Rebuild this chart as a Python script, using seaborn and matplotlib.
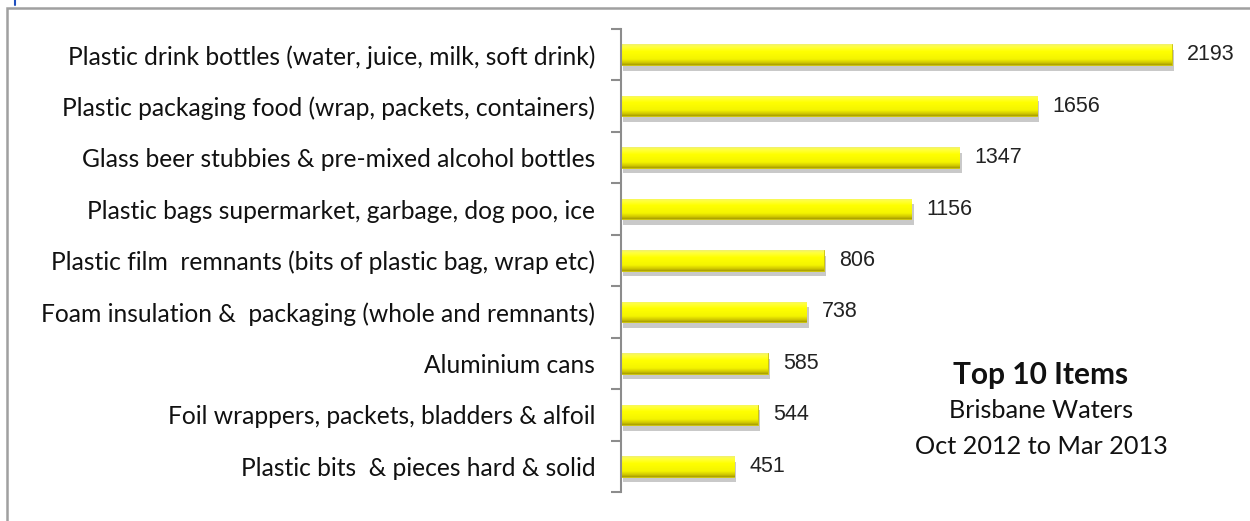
import matplotlib
matplotlib.use("Agg")
import matplotlib.pyplot as plt
import matplotlib.patheffects as pe
from matplotlib.patches import Rectangle
from matplotlib.lines import Line2D
from matplotlib.ticker import FixedLocator
from matplotlib.colors import LinearSegmentedColormap
import numpy as np
import seaborn as sns
import pandas as pd

categories = [
    "Plastic drink bottles (water, juice, milk, soft drink)",
    "Plastic packaging food (wrap, packets, containers)",
    "Glass beer stubbies & pre-mixed alcohol bottles",
    "Plastic bags supermarket, garbage, dog poo, ice",
    "Plastic film  remnants (bits of plastic bag, wrap etc)",
    "Foam insulation &  packaging (whole and remnants)",
    "Aluminium cans",
    "Foil wrappers, packets, bladders & alfoil",
    "Plastic bits  & pieces hard & solid",
]
counts = [2193, 1656, 1347, 1156, 806, 738, 585, 544, 451]
title_lines = ["Top 10 Items", "Brisbane Waters", "Oct 2012 to Mar 2013"]

df = pd.DataFrame({"item": categories, "count": counts})

sns.set_theme(style="white")
plt.rcParams["font.family"] = ["Lato", "DejaVu Sans"]

fig = plt.figure(figsize=(12.5, 5.21), dpi=100)
ax = fig.add_axes([621 / 1250, 29 / 521, 603 / 1250, (492 - 29) / 521])

sns.barplot(data=df, x="count", y="item", orient="h", width=0.4,
            color="#FFFF10", edgecolor="#C8BE00", linewidth=0.6,
            saturation=1, ax=ax)

for p in ax.patches:
    p.set_path_effects([
        pe.SimplePatchShadow(offset=(1.5, -4), shadow_rgbFace="#7a7a7a", alpha=0.4),
        pe.Normal(),
    ])

# bevel-like vertical gradient clipped to each bar
bevel = LinearSegmentedColormap.from_list("bevel", [
    (0.0, "#F0F070"), (0.12, "#FFFF40"), (0.35, "#FFFF00"),
    (0.72, "#F4F400"), (0.88, "#D4CC00"), (1.0, "#A89E00")])
grad = np.linspace(0, 1, 64).reshape(-1, 1)
for p in ax.patches:
    x0, y0, w, h = p.get_x(), p.get_y(), p.get_width(), p.get_height()
    im = ax.imshow(grad, cmap=bevel, aspect="auto", origin="upper",
                   extent=(x0, x0 + w, y0 + h, y0), zorder=p.get_zorder() + 0.1,
                   interpolation="bilinear")
    im.set_clip_path(p)

ax.bar_label(ax.containers[0], labels=[str(v) for v in counts], padding=11,
             fontsize=15.5, color="#222222", family="Liberation Sans")

ax.set_xlim(0, 2400)
ax.set_ylim(len(categories) - 0.5, -0.5)
ax.set_aspect("auto")
ax.set_xlabel("")
ax.set_ylabel("")
ax.set_xticks([])
for s in ["top", "right", "bottom"]:
    ax.spines[s].set_visible(False)
ax.spines["left"].set_color("#8c8c8c")
ax.spines["left"].set_linewidth(1.5)
ax.spines["left"].set_zorder(5)

ax.yaxis.set_minor_locator(FixedLocator([i - 0.5 for i in range(len(categories) + 1)]))
ax.tick_params(axis="y", which="major", length=0, pad=18.5, labelsize=17.7, labelcolor="#111111")
ax.tick_params(axis="y", which="minor", length=7, width=1.5, color="#8c8c8c", left=True)

fig.text(1041 / 1250, 1 - 375 / 521, title_lines[0], ha="center", va="center",
         fontsize=21.5, fontweight="bold", color="#111111")
fig.text(1041 / 1250, 1 - 411 / 521, title_lines[1], ha="center", va="center",
         fontsize=18.2, color="#111111")
fig.text(1041 / 1250, 1 - 447 / 521, title_lines[2], ha="center", va="center",
         fontsize=18.2, color="#111111")

fig.patches.append(Rectangle((7 / 1250, -0.1), 1.2, 1 - 8 / 521 + 0.1,
                             transform=fig.transFigure, fill=False,
                             edgecolor="#a0a0a0", linewidth=1.8))
fig.lines.append(Line2D([15 / 1250, 15 / 1250], [1, 1 - 5 / 521],
                        transform=fig.transFigure, color="#2050c0", linewidth=1.5))

fig.savefig("out.png", dpi=100)
